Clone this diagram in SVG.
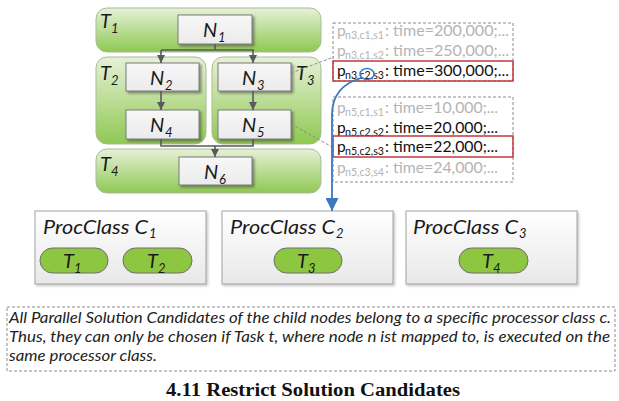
<svg xmlns="http://www.w3.org/2000/svg" width="619" height="401" viewBox="0 0 619 401">
  <defs>
    <linearGradient id="gBand" x1="0" y1="0" x2="0" y2="1">
      <stop offset="0" stop-color="#e6f1d8"/>
      <stop offset="1" stop-color="#8fc852"/>
    </linearGradient>
    <linearGradient id="gClass" x1="0" y1="0" x2="0" y2="1">
      <stop offset="0" stop-color="#ffffff"/>
      <stop offset="1" stop-color="#e8e8e8"/>
    </linearGradient>
    <linearGradient id="gNode" x1="0" y1="0" x2="0" y2="1">
      <stop offset="0" stop-color="#f7f7f7"/>
      <stop offset="1" stop-color="#ebebeb"/>
    </linearGradient>
    <filter id="shadow" x="-10%" y="-10%" width="130%" height="140%">
      <feDropShadow dx="2" dy="2" stdDeviation="1" flood-color="#404040" flood-opacity="0.55"/>
    </filter>
    <filter id="softShadow" x="-10%" y="-10%" width="130%" height="140%">
      <feDropShadow dx="1.5" dy="1.5" stdDeviation="1.2" flood-color="#606060" flood-opacity="0.35"/>
    </filter>
    <marker id="arrGray" viewBox="0 0 10 10" refX="10" refY="5" markerWidth="8" markerHeight="8" markerUnits="userSpaceOnUse" orient="auto">
      <path d="M0,0 L10,5 L0,10 Z" fill="#5a5a5a"/>
    </marker>
    <marker id="arrBlue" viewBox="0 0 10 10" refX="10" refY="5" markerWidth="13" markerHeight="13" markerUnits="userSpaceOnUse" orient="auto">
      <path d="M0,0 L10,5 L0,10 Z" fill="#3b78c4"/>
    </marker>
  </defs>
  <style>
    .band { fill: url(#gBand); stroke: #a9bb98; stroke-width: 1; }
    .node { fill: url(#gNode); stroke: #7a7a7a; stroke-width: 1; filter: url(#shadow); }
    .cls { fill: url(#gClass); stroke: #a3a3a3; stroke-width: 1; filter: url(#softShadow); }
    .pill { fill: #8dc640; stroke: #6e6e6e; stroke-width: 1; }
    .it { font-family: Lato, "Open Sans", sans-serif; font-style: italic; fill: #1a1a1a; }
    .big { font-size: 20px; }
    .sub { font-size: 13px; }
    .pc { font-size: 20px; }
    .cand { font-family: Lato, "Open Sans", sans-serif; font-size: 15.5px; }
    .csub { font-family: Lato, "Open Sans", sans-serif; font-size: 11px; }
    .grey { fill: #b4b4b4; }
    .dark { fill: #111111; }
    .conn { fill: none; stroke: #5a5a5a; stroke-width: 1.6; }
    .dash { fill: none; stroke: #8a8a8a; stroke-width: 1; stroke-dasharray: 3 2; }
    .red { fill: none; stroke: #c0393b; stroke-width: 1.5; }
    .para { font-family: Lato, "Open Sans", sans-serif; font-style: italic; font-size: 15.5px; fill: #222222; }
  </style>

  <!-- task bands -->
  <g id="T1">
    <rect class="band" x="96" y="8" width="225" height="44" rx="11"/>
    <text class="it big" x="100" y="28">T</text><text class="it sub" x="111" y="33">1</text>
  </g>
  <g id="T2">
    <rect class="band" x="96" y="57" width="110" height="87" rx="11"/>
    <text class="it big" x="100" y="80">T</text><text class="it sub" x="111" y="85">2</text>
  </g>
  <g id="T3">
    <rect class="band" x="212" y="57" width="109" height="87" rx="11"/>
    <text class="it big" x="296" y="80">T</text><text class="it sub" x="307" y="85">3</text>
  </g>
  <g id="T4">
    <rect class="band" x="96" y="149" width="225" height="44" rx="11"/>
    <text class="it big" x="100" y="171">T</text><text class="it sub" x="111" y="176">4</text>
  </g>

  <!-- graph nodes -->
  <g id="N1">
    <rect class="node" x="178" y="15" width="74" height="29"/>
    <text class="it big" x="203" y="37">N</text><text class="it sub" x="218" y="42">1</text>
  </g>
  <g id="N2">
    <rect class="node" x="126" y="63" width="73" height="28"/>
    <text class="it big" x="150" y="85">N</text><text class="it sub" x="165" y="90">2</text>
  </g>
  <g id="N3">
    <rect class="node" x="218" y="63" width="73" height="28"/>
    <text class="it big" x="242" y="85">N</text><text class="it sub" x="257" y="90">3</text>
  </g>
  <g id="N4">
    <rect class="node" x="126" y="110" width="73" height="29"/>
    <text class="it big" x="150" y="132">N</text><text class="it sub" x="165" y="137">4</text>
  </g>
  <g id="N5">
    <rect class="node" x="218" y="110" width="73" height="29"/>
    <text class="it big" x="242" y="132">N</text><text class="it sub" x="257" y="137">5</text>
  </g>
  <g id="N6">
    <rect class="node" x="179" y="157" width="73" height="28"/>
    <text class="it big" x="204" y="179">N</text><text class="it sub" x="219" y="184">6</text>
  </g>

  <!-- solution candidate lists -->
  <g id="candidates-n3">
    <rect class="dash" x="333" y="23" width="180" height="58"/>
    <text class="cand grey" x="337" y="36">p</text><text class="csub grey" x="345" y="39" textLength="39" lengthAdjust="spacingAndGlyphs">n3,c1,s1</text>
    <text class="cand grey" x="385" y="36" textLength="124" lengthAdjust="spacingAndGlyphs">: time=200,000;...</text>
    <text class="cand grey" x="337" y="56">p</text><text class="csub grey" x="345" y="59" textLength="39" lengthAdjust="spacingAndGlyphs">n3,c1,s2</text>
    <text class="cand grey" x="385" y="56" textLength="124" lengthAdjust="spacingAndGlyphs">: time=250,000;...</text>
    <rect class="red" x="333" y="61" width="180" height="20"/>
    <text class="cand dark" x="337" y="76">p</text><text class="csub dark" x="345" y="79" textLength="39" lengthAdjust="spacingAndGlyphs">n3,c2,s3</text>
    <text class="cand dark" x="385" y="76" textLength="124" lengthAdjust="spacingAndGlyphs">: time=300,000;...</text>
  </g>
  <g id="candidates-n5">
    <rect class="dash" x="333" y="97" width="180" height="85"/>
    <text class="cand grey" x="337" y="113">p</text><text class="csub grey" x="345" y="116" textLength="39" lengthAdjust="spacingAndGlyphs">n5,c1,s1</text>
    <text class="cand grey" x="385" y="113" textLength="113" lengthAdjust="spacingAndGlyphs">: time=10,000;...</text>
    <text class="cand dark" x="337" y="133">p</text><text class="csub dark" x="345" y="136" textLength="39" lengthAdjust="spacingAndGlyphs">n5,c2,s2</text>
    <text class="cand dark" x="385" y="133" textLength="113" lengthAdjust="spacingAndGlyphs">: time=20,000;...</text>
    <rect class="red" x="333" y="136" width="180" height="21"/>
    <text class="cand dark" x="337" y="152">p</text><text class="csub dark" x="345" y="155" textLength="39" lengthAdjust="spacingAndGlyphs">n5,c2,s3</text>
    <text class="cand dark" x="385" y="152" textLength="113" lengthAdjust="spacingAndGlyphs">: time=22,000;...</text>
    <text class="cand grey" x="337" y="173">p</text><text class="csub grey" x="345" y="176" textLength="39" lengthAdjust="spacingAndGlyphs">n5,c3,s4</text>
    <text class="cand grey" x="385" y="173" textLength="113" lengthAdjust="spacingAndGlyphs">: time=24,000;...</text>
  </g>

  <!-- processor classes -->
  <g id="C1">
    <rect class="cls" x="35" y="211" width="171" height="73"/>
    <text class="it pc" x="43" y="234" textLength="105" lengthAdjust="spacingAndGlyphs">ProcClass C</text><text class="it sub" x="149" y="238">1</text>
    <rect class="pill" x="40" y="248" width="68" height="25" rx="12.5"/>
    <text class="it big" x="63" y="268">T</text><text class="it sub" x="74" y="273">1</text>
    <rect class="pill" x="123" y="248" width="69" height="25" rx="12.5"/>
    <text class="it big" x="147" y="268">T</text><text class="it sub" x="158" y="273">2</text>
  </g>
  <g id="C2">
    <rect class="cls" x="222" y="211" width="171" height="73"/>
    <text class="it pc" x="230" y="234" textLength="105" lengthAdjust="spacingAndGlyphs">ProcClass C</text><text class="it sub" x="336" y="238">2</text>
    <rect class="pill" x="274" y="248" width="68" height="25" rx="12.5"/>
    <text class="it big" x="297" y="268">T</text><text class="it sub" x="308" y="273">3</text>
  </g>
  <g id="C3">
    <rect class="cls" x="406" y="211" width="171" height="73"/>
    <text class="it pc" x="413" y="234" textLength="105" lengthAdjust="spacingAndGlyphs">ProcClass C</text><text class="it sub" x="519" y="238">3</text>
    <rect class="pill" x="459" y="248" width="69" height="25" rx="12.5"/>
    <text class="it big" x="482" y="268">T</text><text class="it sub" x="493" y="273">4</text>
  </g>

  <!-- connectors -->
  <g id="connectors">
    <path class="conn" d="M215,44 V50 M161,50 H254"/>
    <path class="conn" d="M161,50 V63" marker-end="url(#arrGray)"/>
    <path class="conn" d="M253,50 V63" marker-end="url(#arrGray)"/>
    <path class="conn" d="M161,91 V110" marker-end="url(#arrGray)"/>
    <path class="conn" d="M253,91 V110" marker-end="url(#arrGray)"/>
    <path class="conn" d="M161,139 V146 H253 V139"/>
    <path class="conn" d="M215,146 V157" marker-end="url(#arrGray)"/>
    <path class="dash" d="M291,73 L334,57"/>
    <path class="dash" d="M291,124 L334,148"/>
    <ellipse cx="367" cy="74" rx="7" ry="5.5" fill="none" stroke="#3b78c4" stroke-width="1.5"/>
    <path d="M361,78 C344,83 332,94 332,115 V211" fill="none" stroke="#3b78c4" stroke-width="1.8" marker-end="url(#arrBlue)"/>
  </g>

  <!-- explanation -->
  <g id="note">
    <rect class="dash" x="7" y="307" width="608" height="64" stroke="#777"/>
    <text class="para" x="9" y="323" textLength="602" lengthAdjust="spacingAndGlyphs">All Parallel Solution Candidates of the child nodes belong to a specific processor class c.</text>
    <text class="para" x="9" y="342" textLength="601" lengthAdjust="spacingAndGlyphs">Thus, they can only be chosen if Task t, where node n ist mapped to, is executed on the</text>
    <text class="para" x="9" y="361" textLength="148" lengthAdjust="spacingAndGlyphs">same processor class.</text>
  </g>

  <text x="313" y="396" text-anchor="middle" font-family="'Liberation Serif', serif" font-weight="bold" font-size="18" fill="#111" textLength="294" lengthAdjust="spacingAndGlyphs">4.11 Restrict Solution Candidates</text>
</svg>
